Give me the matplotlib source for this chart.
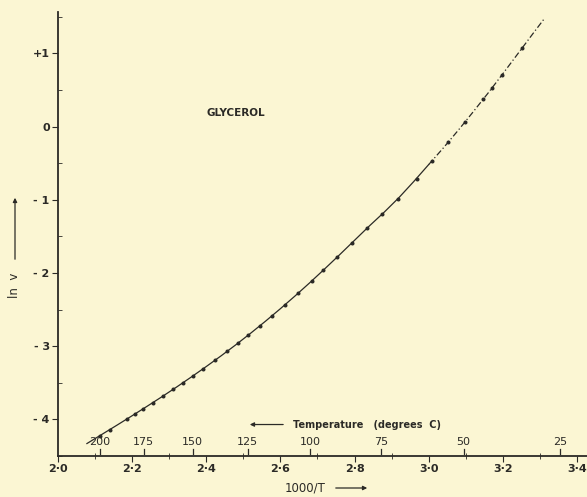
import matplotlib
matplotlib.use("Agg")
import matplotlib.pyplot as plt
import numpy as np

# data
inv_T_solid = [2.078, 2.12, 2.16, 2.20, 2.24, 2.28, 2.32, 2.36, 2.40, 2.44, 2.48, 2.52,
               2.56, 2.60, 2.64, 2.68, 2.72, 2.76, 2.80, 2.84, 2.88, 2.92, 2.96, 3.00]
lnV_solid = [-4.33, -4.20, -4.076, -3.95, -3.822, -3.692, -3.558, -3.42, -3.278, -3.132,
             -2.98, -2.822, -2.658, -2.488, -2.312, -2.13, -1.942, -1.75, -1.554, -1.358,
             -1.17, -0.97, -0.75, -0.52]
inv_T_dash = [3.00, 3.04, 3.08, 3.12, 3.16, 3.20, 3.24, 3.28, 3.31]
lnV_dash = [-0.52, -0.29, -0.05, 0.20, 0.455, 0.72, 0.99, 1.26, 1.46]

pts_x = [2.113, 2.140, 2.186, 2.208, 2.230, 2.256, 2.283, 2.310, 2.337, 2.364, 2.390, 2.424,
         2.456, 2.486, 2.513, 2.545, 2.577, 2.612, 2.647, 2.685, 2.715, 2.753, 2.793, 2.834,
         2.874, 2.917, 2.968, 3.009, 3.052, 3.098, 3.146, 3.171, 3.198, 3.252]
pts_y = [-4.22, -4.14, -3.99, -3.925, -3.855, -3.77, -3.68, -3.59, -3.50, -3.405, -3.314,
         -3.19, -3.07, -2.955, -2.85, -2.72, -2.585, -2.435, -2.28, -2.107, -1.965, -1.785,
         -1.59, -1.385, -1.20, -0.985, -0.72, -0.47, -0.215, 0.06, 0.37, 0.53, 0.705, 1.07]

x_ticks = [2.0, 2.2, 2.4, 2.6, 2.8, 3.0, 3.2, 3.4]
x_tick_labels = ["2·0", "2·2", "2·4", "2·6", "2·8", "3·0", "3·2", "3·4"]
y_ticks = [1, 0, -1, -2, -3, -4]
y_tick_labels = ["+1", "0", "- 1", "- 2", "- 3", "- 4"]
temps_C = [200, 175, 150, 125, 100, 75, 50, 25]

bg = "#fbf6d3"
ink = "#2b2a26"

fig = plt.figure(figsize=(5.87, 4.97), dpi=100, facecolor=bg)
ax = fig.add_axes([58/587, 1-456/497, 530/587, 444/497], facecolor=bg)

ax.plot(inv_T_solid, lnV_solid, color=ink, lw=0.9)
ax.plot(inv_T_dash, lnV_dash, color=ink, lw=0.9, ls=(0, (5, 2, 1, 2)))
ax.plot(pts_x, pts_y, ls="none", marker="o", ms=1.9, color=ink)

ax.set_xlim(2.0, 3.43)
ax.set_ylim(-4.476, 1.565)
for s in ["top", "right"]:
    ax.spines[s].set_visible(False)
for s in ["left", "bottom"]:
    ax.spines[s].set_color(ink)
    ax.spines[s].set_linewidth(1.3)

ax.set_xticks(x_ticks)
ax.set_xticklabels(x_tick_labels, fontsize=8, fontweight="bold", color=ink)
ax.set_yticks(y_ticks)
ax.set_yticklabels(y_tick_labels, fontsize=8, fontweight="bold", color=ink)
ax.set_xticks(np.arange(2.1, 3.41, 0.2), minor=True)
ax.set_yticks(np.arange(-4.5, 1.6, 1.0), minor=True)
ax.tick_params(axis="x", which="major", direction="out", length=4, color=ink, pad=2)
ax.tick_params(axis="x", which="minor", direction="inout", length=4, color=ink)
ax.tick_params(axis="y", which="major", direction="out", length=4, color=ink, pad=2)
ax.tick_params(axis="y", which="minor", direction="in", length=3, color=ink)

# temperature scale above the axis
for t in temps_C:
    xv = 1000.0 / (t + 273.15)
    ax.plot([xv, xv], [-4.476, -4.41], color=ink, lw=0.9, clip_on=False)
    ax.text(xv, -4.38, str(t), ha="center", va="bottom", fontsize=8, color=ink)

ax.annotate("", xy=(2.51, -4.07), xytext=(2.615, -4.07),
            arrowprops=dict(arrowstyle="-|>", color=ink, lw=0.9, mutation_scale=6))
ax.text(2.635, -4.07, "Temperature   (degrees  C)", ha="left", va="center",
        fontsize=7, fontweight="bold", color=ink)

ax.text(2.40, 0.19, "GLYCEROL", ha="left", va="center", fontsize=7.5,
        fontweight="bold", color=ink)

# axis titles
fig.text(305/587, 1-488/497, "1000/T", ha="center", va="center", fontsize=8.5, color=ink)
fig.add_artist(matplotlib.patches.FancyArrowPatch((333/587, 1-488/497), (370/587, 1-488/497),
               transform=fig.transFigure, arrowstyle="-|>", mutation_scale=6, color=ink, lw=0.9))
fig.text(15/587, 1-285/497, "ln  v", ha="center", va="center", rotation=90,
         fontsize=8.5, color=ink)
fig.add_artist(matplotlib.patches.FancyArrowPatch((15/587, 1-262/497), (15/587, 1-195/497),
               transform=fig.transFigure, arrowstyle="-|>", mutation_scale=6, color=ink, lw=0.9))

fig.savefig("out.png", dpi=100, facecolor=bg)
